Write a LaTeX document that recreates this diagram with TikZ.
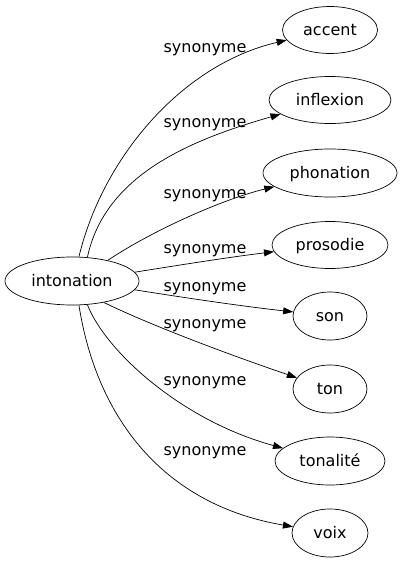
\documentclass[tikz,border=0pt]{standalone}
\usepackage{fontspec}
\setmainfont{DejaVu Sans}
\usetikzlibrary{shapes.geometric,arrows.meta}
\tikzstyle{word}=[ellipse, draw, line width=0.7pt, inner sep=0pt, minimum height=47pt, text height=12pt, text depth=2pt, font=\fontsize{16}{19}\selectfont]
\tikzstyle{rel}=[anchor=base, inner sep=0pt, font=\fontsize{16}{19}\selectfont]
\tikzstyle{link}=[line width=0.7pt, >={Triangle[length=10pt,width=7pt]}]

\begin{document}
\begin{tikzpicture}[x=1pt,y=-1pt]
\useasboundingbox (0,0) rectangle (402,563);
\draw (72,281) node[word, minimum width=134pt, minimum height=48pt] (int) {intonation};
\draw (330,30) node[word, minimum width=95pt] (acc) {accent};
\draw (330,100) node[word, minimum width=122pt] (infl) {inflexion};
\draw (330,173) node[word, minimum width=134pt, minimum height=48pt] (phon) {phonation};
\draw (330,245) node[word, minimum width=116pt] (pros) {prosodie};
\draw (330,316) node[word, minimum width=74pt, minimum height=48pt] (son) {son};
\draw (330,389) node[word, minimum width=74pt, minimum height=48pt] (ton) {ton};
\draw (330,461) node[word, minimum width=110pt, minimum height=48pt] (tonal) {tonalité};
\draw (330,533) node[word, minimum width=76pt, minimum height=48pt] (voix) {voix};

\draw[link, ->] (int.74) .. controls (102,160) and (180,65) .. (acc);
\draw[link, ->] (int.57) .. controls (105,175) and (190,140) .. (infl);
\draw[link, ->] (int.30) .. controls (150,232) and (220,200) .. (phon);
\draw[link, ->] (int.8) .. controls (180,265) and (230,257) .. (pros);
\draw[link, ->] (int.-8) .. controls (180,297) and (240,306) .. (son);
\draw[link, ->] (int.-34) .. controls (150,325) and (230,355) .. (ton);
\draw[link, ->] (int.-57) .. controls (105,350) and (180,420) .. (tonal);
\draw[link, ->] (int.-74) .. controls (97,420) and (165,505) .. (voix);

\draw (205,52) node[rel] (s1) {synonyme};
\draw (205,127) node[rel] (s2) {synonyme};
\draw (205,198) node[rel] (s3) {synonyme};
\draw (205,253) node[rel] (s4) {synonyme};
\draw (205,291) node[rel] (s5) {synonyme};
\draw (205,328) node[rel] (s6) {synonyme};
\draw (205,385) node[rel] (s7) {synonyme};
\draw (205,455) node[rel] (s8) {synonyme};
\end{tikzpicture}
\end{document}
